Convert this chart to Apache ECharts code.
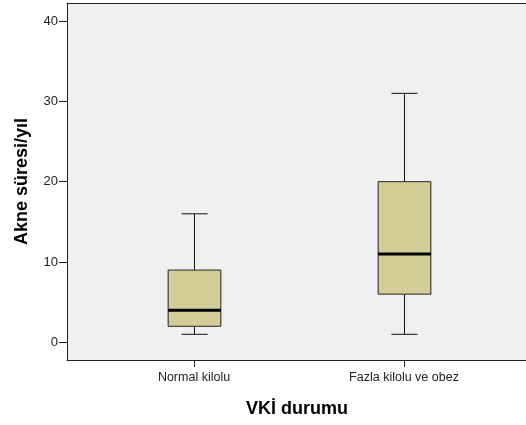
<!DOCTYPE html>
<html><head><meta charset="utf-8">
<script src="https://cdn.jsdelivr.net/npm/echarts@6/dist/echarts.min.js"></script>
<style>html,body{margin:0;padding:0;background:#fff}#c{width:526px;height:425px}</style>
</head><body><div id="c"></div>
<script>
const categories = ["Normal kilolu", "Fazla kilolu ve obez"];
const mins    = [1, 1];
const q1s     = [2, 6];
const medians = [4, 11];
const q3s     = [9, 20];
const maxs    = [16, 31];
const yTicks  = [0, 10, 20, 30, 40];
const yTitle = "Akne süresi/yıl";
const xTitle = "VKİ durumu";

const data = categories.map((c, i) => [i + 1, mins[i], q1s[i], medians[i], q3s[i], maxs[i]]);
const FONT = '"Liberation Sans", Arial, sans-serif';
const AX = '#222';

const chart = echarts.init(document.getElementById('c'), null, {renderer: 'canvas'});
chart.setOption({
  animation: false,
  backgroundColor: '#ffffff',
  grid: {left: 67, top: 3, right: 0, bottom: 65, show: true, backgroundColor: '#F0F0F0', borderWidth: 0},
  xAxis: [{
    type: 'value', min: 0.3952, max: 2.581,
    axisLine: {show: true, onZero: false, lineStyle: {color: AX, width: 1}},
    splitLine: {show: false},
    axisTick: {show: true, length: 7, lineStyle: {color: AX}, customValues: [1, 2]},
    axisLabel: {show: true, customValues: [1, 2], color: '#222', fontFamily: FONT, fontSize: 12.5, margin: 11,
      formatter: v => categories[Math.round(v) - 1] || ''}
  }, {
    type: 'value', position: 'top', min: 0.3952, max: 2.581,
    axisLine: {show: true, onZero: false, lineStyle: {color: AX, width: 1}},
    splitLine: {show: false}, axisTick: {show: false}, axisLabel: {show: false}
  }],
  yAxis: {
    type: 'value', min: -2.2, max: 42.25,
    axisLine: {show: true, onZero: false, lineStyle: {color: AX, width: 1}},
    splitLine: {show: false},
    axisTick: {show: true, length: 8, lineStyle: {color: AX}, customValues: yTicks},
    axisLabel: {show: true, customValues: yTicks, color: '#222', fontFamily: FONT, fontSize: 13, margin: 9}
  },
  series: [{
    type: 'custom',
    xAxisIndex: 0,
    data: data,
    renderItem: function (params, api) {
      const x = api.value(0);
      const lo = api.value(1), q1 = api.value(2), md = api.value(3), q3 = api.value(4), hi = api.value(5);
      const pLo = api.coord([x, lo]), pQ1 = api.coord([x, q1]), pMd = api.coord([x, md]), pQ3 = api.coord([x, q3]), pHi = api.coord([x, hi]);
      const bw = api.size([0.251, 0])[0];
      const cw = api.size([0.124, 0])[0];
      const cx = Math.round(pMd[0]) + 0.5;
      const ln = {stroke: '#111', lineWidth: 1};
      return {
        type: 'group',
        children: [
          {type: 'line', shape: {x1: cx, y1: pHi[1], x2: cx, y2: pQ3[1]}, style: ln},
          {type: 'line', shape: {x1: cx, y1: pQ1[1], x2: cx, y2: pLo[1]}, style: ln},
          {type: 'line', shape: {x1: cx - cw / 2, y1: pHi[1], x2: cx + cw / 2, y2: pHi[1]}, style: ln},
          {type: 'line', shape: {x1: cx - cw / 2, y1: pLo[1], x2: cx + cw / 2, y2: pLo[1]}, style: ln},
          {type: 'rect', shape: {x: cx - bw / 2, y: pQ3[1], width: bw, height: pQ1[1] - pQ3[1]},
            style: {fill: '#D3CE98', stroke: '#222', lineWidth: 1}},
          {type: 'line', shape: {x1: cx - bw / 2, y1: pMd[1], x2: cx + bw / 2, y2: pMd[1]}, style: {stroke: '#000', lineWidth: 3}}
        ]
      };
    }
  }],
  graphic: [
    {type: 'text', x: 22, y: 181.5, rotation: Math.PI / 2,
      style: {text: yTitle, font: 'bold 18px ' + FONT, fill: '#000', align: 'center', verticalAlign: 'middle'}},
    {type: 'text', x: 297, y: 409,
      style: {text: xTitle, font: 'bold 18px ' + FONT, fill: '#000', align: 'center', verticalAlign: 'middle'}}
  ]
});
</script></body></html>
